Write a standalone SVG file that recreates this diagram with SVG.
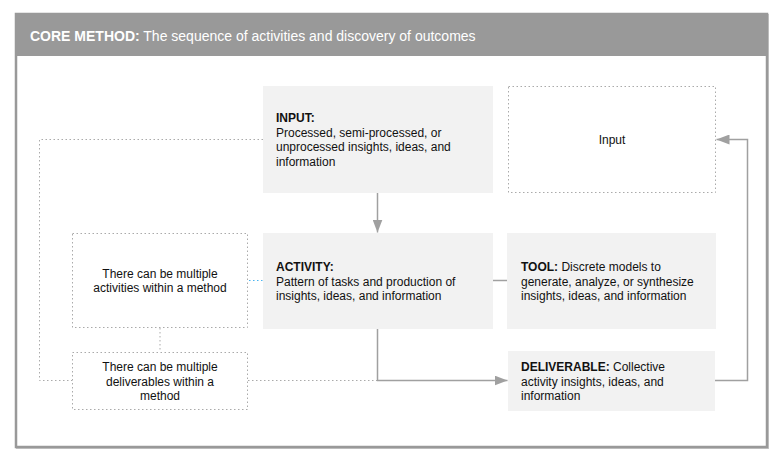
<svg xmlns="http://www.w3.org/2000/svg" width="784" height="454" viewBox="0 0 784 454">
<defs>
<style>
text{font-family:"Liberation Sans",Arial,sans-serif;font-size:12px;fill:#111}
.b{font-weight:bold}
.box{fill:#f2f2f2}
.dbox{fill:#fff;stroke:#aaa;stroke-width:1;stroke-dasharray:1.5 2.5}
.con{fill:none;stroke:#a0a0a0;stroke-width:1.5}
.dot{fill:none;stroke:#aaa;stroke-width:1;stroke-dasharray:1.5 2.5}
.blue{fill:none;stroke:#4ab4f0;stroke-width:1.2;stroke-dasharray:1.5 2.5}
.c{text-anchor:middle}
</style>
<marker id="ah" markerWidth="13" markerHeight="10" refX="13" refY="5" orient="auto" markerUnits="userSpaceOnUse">
<path d="M0,0 L13,5 L0,10 Z" fill="#a0a0a0"/>
</marker>
</defs>
<rect x="0" y="0" width="784" height="454" fill="#fff"/>
<g id="frame">
<rect x="17" y="15" width="751" height="433" fill="none" stroke="#c8c8c8" stroke-width="2"/>
<rect x="16" y="14" width="751" height="433" fill="#fff" stroke="#999" stroke-width="2.5"/>
<rect x="15" y="13" width="753" height="43" fill="#999"/>
<text x="30" y="41" style="font-size:14px;fill:#fff"><tspan class="b" style="fill:#fff">CORE METHOD:</tspan> The sequence of activities and discovery of outcomes</text>
</g>
<g id="connectors">
<path class="dot" d="M263,139.5 H39.5 V380.5 H72"/>
<path class="dot" d="M248,380.5 H377"/>
<path class="dot" d="M160,328 V352"/>
<path class="blue" d="M249,280.5 H263"/>
<path class="con" d="M493,280.5 H507"/>
<path class="con" d="M377.5,193 V232.5" marker-end="url(#ah)"/>
<path class="con" d="M377.5,329 V380.5 H507.5" marker-end="url(#ah)"/>
<path class="con" d="M715,380.5 H747.5 V139.5 H716.5" marker-end="url(#ah)"/>
</g>
<g id="input">
<rect class="box" x="263" y="86" width="230" height="107"/>
<text x="276" y="122" class="b">INPUT:</text>
<text x="276" y="136.5">Processed, semi-processed, or</text>
<text x="276" y="151">unprocessed insights, ideas, and</text>
<text x="276" y="165.5">information</text>
</g>
<g id="input-out">
<rect class="dbox" x="508.5" y="86.5" width="207" height="106"/>
<text x="612" y="144" class="c">Input</text>
</g>
<g id="activity">
<rect class="box" x="263" y="233" width="230" height="96"/>
<text x="276" y="271" class="b">ACTIVITY:</text>
<text x="276" y="285.5">Pattern of tasks and production of</text>
<text x="276" y="300">insights, ideas, and information</text>
</g>
<g id="tool">
<rect class="box" x="507" y="233" width="209" height="96"/>
<text x="521" y="271"><tspan class="b">TOOL:</tspan> Discrete models to</text>
<text x="521" y="285.5">generate, analyze, or synthesize</text>
<text x="521" y="300">insights, ideas, and information</text>
</g>
<g id="deliverable">
<rect class="box" x="508" y="351" width="207" height="60"/>
<text x="521" y="371"><tspan class="b">DELIVERABLE:</tspan> Collective</text>
<text x="521" y="385.5">activity insights, ideas, and</text>
<text x="521" y="400">information</text>
</g>
<g id="note-activities">
<rect class="dbox" x="72.5" y="233.5" width="175" height="94"/>
<text x="160" y="277.5" class="c">There can be multiple</text>
<text x="160" y="292" class="c">activities within a method</text>
</g>
<g id="note-deliverables">
<rect class="dbox" x="72.5" y="352.5" width="175" height="57"/>
<text x="160" y="371" class="c">There can be multiple</text>
<text x="160" y="385.5" class="c">deliverables within a</text>
<text x="160" y="400" class="c">method</text>
</g>
</svg>
